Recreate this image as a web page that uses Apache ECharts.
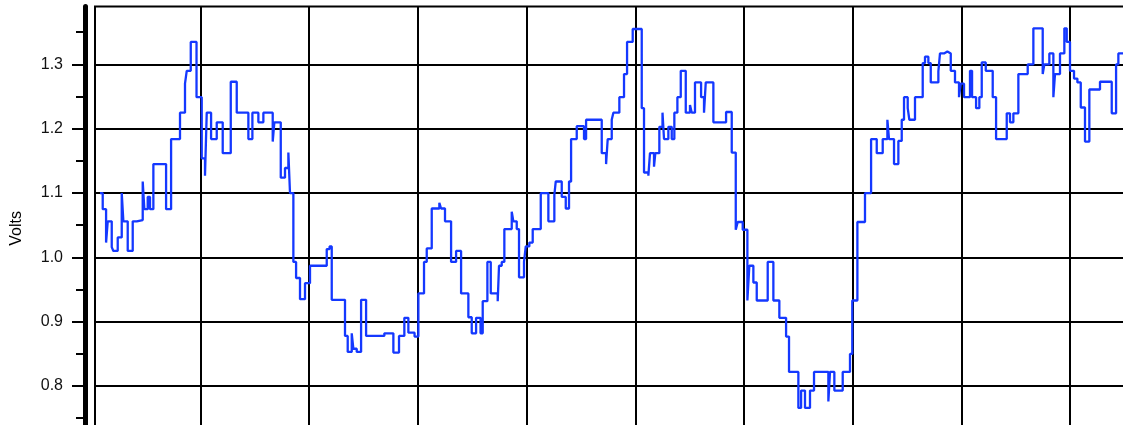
<!DOCTYPE html>
<html>
<head>
    <meta http-equiv="Content-Type" content="text/html; charset=utf-8">
    <title>Volts</title>
    <script src="https://cdn.jsdelivr.net/npm/echarts@6/dist/echarts.min.js"></script>
    <style>
        body {margin:0; background:#fff;}
    </style>
</head>
<body>
    <div id="main" style="width: 1123px;height:425px;"></div>
    <script type="text/javascript">
        // time (s) where each step starts, and the level it holds until the next one
        var timeS = [
            0.75, 1.00, 1.31, 1.46, 1.83, 1.98, 2.38, 2.75, 2.90, 3.30,
            3.76, 4.13, 4.68, 4.83, 5.14, 5.35, 5.66, 6.83, 7.29, 8.11,
            8.57, 8.73, 9.10, 9.63, 10.11, 10.41, 10.57, 10.97, 11.49, 12.04,
            12.78, 13.33, 14.40, 14.77, 15.32, 15.78, 16.64, 16.79, 17.38, 17.77,
            18.08, 18.23, 18.54, 18.79, 19.15, 19.61, 20.07, 21.61, 21.87, 22.07,
            23.29, 23.54, 23.91, 24.06, 24.37, 24.77, 25.23, 26.91, 27.74, 28.26,
            28.75, 29.12, 29.69, 30.04, 30.56, 30.81, 31.27, 31.97, 32.13, 32.49,
            33.05, 33.51, 33.97, 34.64, 34.95, 35.35, 35.76, 35.96, 36.39, 36.70,
            37.34, 37.46, 37.71, 37.95, 38.63, 38.78, 39.09, 39.30, 39.76, 39.92,
            40.25, 40.56, 41.30, 42.00, 42.55, 42.68, 43.23, 43.60, 43.90, 44.09,
            44.61, 45.28, 45.47, 46.91, 47.31, 47.46, 47.83, 47.98, 48.53, 48.96,
            49.24, 49.76, 50.59, 50.80, 51.20, 51.35, 51.72, 51.84, 52.21, 52.50,
            52.64, 53.04, 53.35, 53.59, 53.87, 54.18, 54.64, 55.03, 55.19, 55.49,
            56.05, 56.32, 56.48, 57.18, 58.35, 58.87, 59.24, 59.42, 59.88, 60.31,
            60.49, 60.86, 61.17, 62.18, 62.70, 63.25, 63.87, 64.14, 65.00, 65.25,
            65.61, 66.07, 66.44, 67.76, 67.91, 68.31, 69.08, 69.75, 69.96, 70.43,
            71.13, 71.69, 72.21, 72.76, 73.19, 73.34, 73.80, 74.20, 74.51, 74.72,
            75.06, 75.21, 75.73, 76.44, 76.65, 76.96, 77.18, 77.88, 78.03, 78.40,
            78.71, 79.02, 79.41, 79.78, 79.94, 80.24, 80.79, 80.98, 81.35, 81.65,
            81.87, 82.24, 82.88, 83.19, 84.17, 84.47, 84.78, 85.24, 86.10, 86.62,
            87.48, 87.63, 88.09, 88.46, 88.61, 89.07, 89.47, 89.69, 89.99, 90.36,
            90.67, 90.98, 91.37, 91.77, 92.75, 93.83, 94.23, 94.44, 95.97
        ];
        var volts = [
            1.100, 1.075, 1.023, 1.056, 1.016, 1.010, 1.031, 1.100, 1.056, 1.010,
            1.056, 1.058, 1.118, 1.075, 1.094, 1.075, 1.145, 1.075, 1.184, 1.225,
            1.270, 1.290, 1.335, 1.249, 1.154, 1.127, 1.225, 1.184, 1.210, 1.162,
            1.273, 1.225, 1.184, 1.225, 1.210, 1.225, 1.180, 1.210, 1.124, 1.139,
            1.163, 1.100, 0.993, 0.968, 0.935, 0.960, 0.987, 1.013, 1.017, 0.934,
            0.878, 0.853, 0.882, 0.858, 0.853, 0.934, 0.878, 0.882, 0.852, 0.878,
            0.906, 0.883, 0.877, 0.944, 0.993, 1.014, 1.076, 1.085, 1.076, 1.056,
            0.993, 1.010, 0.944, 0.907, 0.882, 0.906, 0.882, 0.932, 0.993, 0.944,
            0.932, 0.987, 0.993, 1.044, 1.071, 1.056, 1.044, 0.969, 0.993, 1.017,
            1.023, 1.044, 1.100, 1.056, 1.097, 1.118, 1.094, 1.076, 1.118, 1.184,
            1.204, 1.184, 1.214, 1.162, 1.145, 1.184, 1.214, 1.225, 1.249, 1.285,
            1.335, 1.355, 1.232, 1.132, 1.127, 1.162, 1.141, 1.162, 1.203, 1.225,
            1.184, 1.203, 1.184, 1.225, 1.249, 1.290, 1.225, 1.237, 1.225, 1.272,
            1.249, 1.225, 1.272, 1.210, 1.226, 1.163, 1.043, 1.055, 1.043, 0.933,
            0.987, 0.961, 0.933, 0.993, 0.933, 0.906, 0.877, 0.822, 0.766, 0.793,
            0.766, 0.793, 0.822, 0.776, 0.822, 0.793, 0.822, 0.850, 0.933, 1.055,
            1.100, 1.184, 1.162, 1.184, 1.214, 1.184, 1.145, 1.181, 1.214, 1.249,
            1.232, 1.214, 1.249, 1.302, 1.312, 1.302, 1.272, 1.289, 1.317, 1.320,
            1.317, 1.290, 1.272, 1.249, 1.270, 1.249, 1.290, 1.249, 1.232, 1.249,
            1.303, 1.290, 1.249, 1.184, 1.224, 1.210, 1.224, 1.285, 1.300, 1.356,
            1.285, 1.300, 1.317, 1.249, 1.285, 1.317, 1.356, 1.335, 1.290, 1.278,
            1.272, 1.233, 1.180, 1.261, 1.273, 1.224, 1.300, 1.317, 1.317
        ];
        var majorTicks = [0.8, 0.9, 1.0, 1.1, 1.2, 1.3];
        var minorTicks = [0.75, 0.85, 0.95, 1.05, 1.15, 1.25, 1.35];

        var points = [];
        for (var i = 0; i < timeS.length; i++) {
            points.push([timeS[i], volts[i]]);
        }

        var myChart = echarts.init(document.getElementById('main'));
        var labelFont = 'Liberation Sans, Arial, Helvetica, sans-serif';

        var option = {
            animation: false,
            grid: {
                left: 95, top: 6.5, right: -55.8, bottom: -25.4,
                show: true, borderColor: '#000', borderWidth: 2,
                outerBoundsMode: 'none'
            },
            xAxis: {
                type: 'value', min: 0.29, max: 100,
                minInterval: 10, maxInterval: 10, splitNumber: 10,
                axisLine: {show: false}, axisTick: {show: false}, axisLabel: {show: false},
                splitLine: {show: true, lineStyle: {color: '#000', width: 2}}
            },
            yAxis: [{
                type: 'value', min: 0.7, max: 1.39, interval: 0.1,
                position: 'left', offset: 10,
                name: 'Volts', nameLocation: 'middle', nameGap: 60,
                nameTextStyle: {fontFamily: labelFont, fontSize: 16, color: '#000'},
                axisLine: {show: true, lineStyle: {color: '#000', width: 5}},
                axisTick: {show: true, length: 13, customValues: majorTicks,
                           lineStyle: {color: '#000', width: 2}},
                axisLabel: {show: true, margin: 22, customValues: majorTicks,
                            fontFamily: labelFont, fontSize: 16, color: '#111',
                            formatter: function (v) { return v.toFixed(1); }},
                splitLine: {show: true, lineStyle: {color: '#000', width: 2}}
            }, {
                type: 'value', min: 0.7, max: 1.39, interval: 0.1,
                position: 'left', offset: 10,
                axisLine: {show: false},
                axisTick: {show: true, length: 9, customValues: minorTicks,
                           lineStyle: {color: '#000', width: 2}},
                axisLabel: {show: false},
                splitLine: {show: false}
            }],
            series: [{
                type: 'line', step: 'end', showSymbol: false,
                data: points,
                lineStyle: {color: '#1438ff', width: 2.3},
                itemStyle: {color: '#1438ff'}
            }]
        };
        myChart.setOption(option);
    </script>
</body>
</html>
